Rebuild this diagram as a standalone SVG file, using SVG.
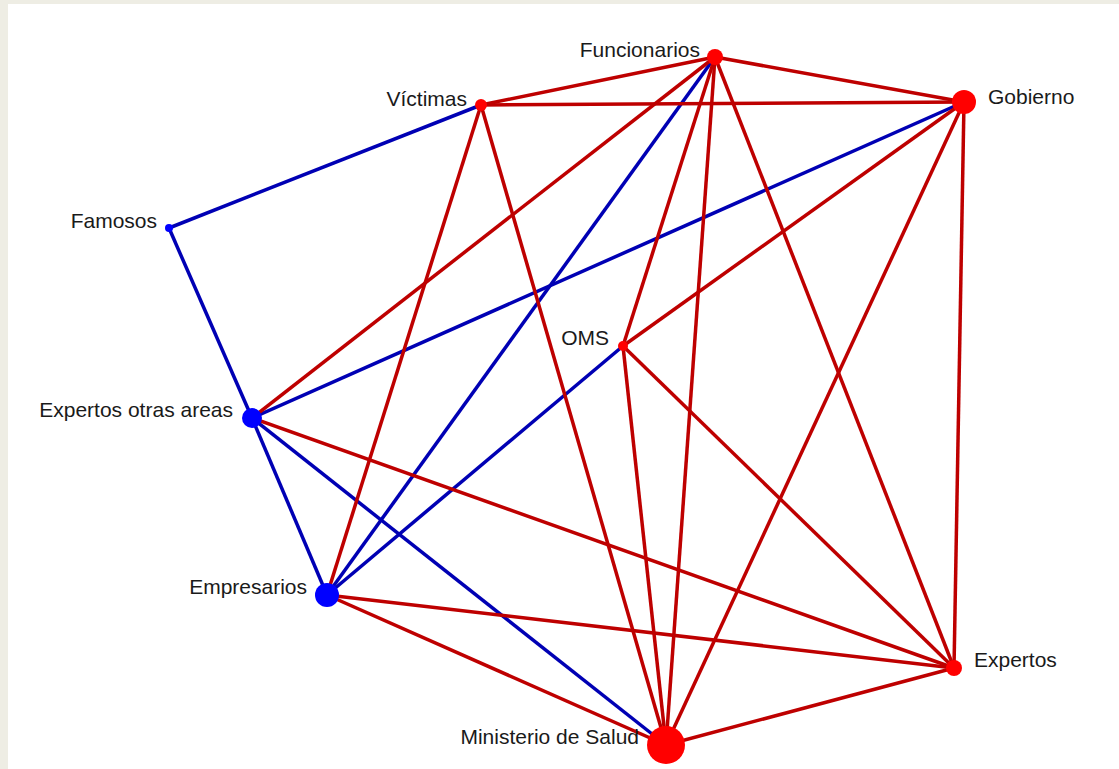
<svg xmlns="http://www.w3.org/2000/svg" width="1119" height="769" viewBox="0 0 1119 769">
<style>
.r{stroke:#BE0000;stroke-width:3.5;fill:none}
.b{stroke:#0000B4;stroke-width:3.5;fill:none}
.nr{fill:#FF0000}
.nb{fill:#0000FF}
text{font-family:"Liberation Sans",Arial,sans-serif;font-size:21px;fill:#1a1a1a}
</style>
<rect x="0" y="0" width="1119" height="769" fill="#EEEDE4"/>
<rect x="8" y="4" width="1111" height="765" fill="#FFFFFF"/>
<g id="connectors">
<line class="b" x1="481" y1="105" x2="169" y2="228"/>
<line class="b" x1="169" y1="228" x2="252" y2="418"/>
<line class="b" x1="252" y1="418" x2="964" y2="102"/>
<line class="b" x1="252" y1="418" x2="327" y2="595"/>
<line class="b" x1="252" y1="418" x2="666" y2="745"/>
<line class="b" x1="327" y1="595" x2="715" y2="57"/>
<line class="b" x1="327" y1="595" x2="623" y2="346"/>
<line class="r" x1="481" y1="105" x2="715" y2="57"/>
<line class="r" x1="481" y1="105" x2="964" y2="102"/>
<line class="r" x1="481" y1="105" x2="327" y2="595"/>
<line class="r" x1="481" y1="105" x2="666" y2="745"/>
<line class="r" x1="715" y1="57" x2="964" y2="102"/>
<line class="r" x1="715" y1="57" x2="252" y2="418"/>
<line class="r" x1="715" y1="57" x2="623" y2="346"/>
<line class="r" x1="715" y1="57" x2="666" y2="745"/>
<line class="r" x1="715" y1="57" x2="954" y2="668"/>
<line class="r" x1="964" y1="102" x2="623" y2="346"/>
<line class="r" x1="964" y1="102" x2="666" y2="745"/>
<line class="r" x1="964" y1="102" x2="954" y2="668"/>
<line class="r" x1="252" y1="418" x2="954" y2="668"/>
<line class="r" x1="327" y1="595" x2="954" y2="668"/>
<line class="r" x1="327" y1="595" x2="666" y2="745"/>
<line class="r" x1="623" y1="346" x2="666" y2="745"/>
<line class="r" x1="623" y1="346" x2="954" y2="668"/>
<line class="r" x1="666" y1="745" x2="954" y2="668"/>
</g>
<g id="funcionarios"><circle class="nr" cx="715" cy="57" r="8"/><text x="700" y="57" text-anchor="end">Funcionarios</text></g>
<g id="victimas"><circle class="nr" cx="481" cy="105" r="6"/><text x="467" y="106" text-anchor="end">Víctimas</text></g>
<g id="gobierno"><circle class="nr" cx="964" cy="102" r="12"/><text x="988" y="104">Gobierno</text></g>
<g id="famosos"><circle class="nb" cx="169" cy="228" r="4"/><text x="157" y="228" text-anchor="end">Famosos</text></g>
<g id="oms"><circle class="nr" cx="623" cy="346" r="5"/><text x="609" y="345" text-anchor="end">OMS</text></g>
<g id="expertos-otras-areas"><circle class="nb" cx="252" cy="418" r="10"/><text x="233" y="417" text-anchor="end">Expertos otras areas</text></g>
<g id="empresarios"><circle class="nb" cx="327" cy="595" r="12"/><text x="307" y="594" text-anchor="end">Empresarios</text></g>
<g id="expertos"><circle class="nr" cx="954" cy="668" r="8"/><text x="974" y="667">Expertos</text></g>
<g id="ministerio-de-salud"><circle class="nr" cx="666" cy="745" r="19"/><text x="639" y="744" text-anchor="end">Ministerio de Salud</text></g>
</svg>
